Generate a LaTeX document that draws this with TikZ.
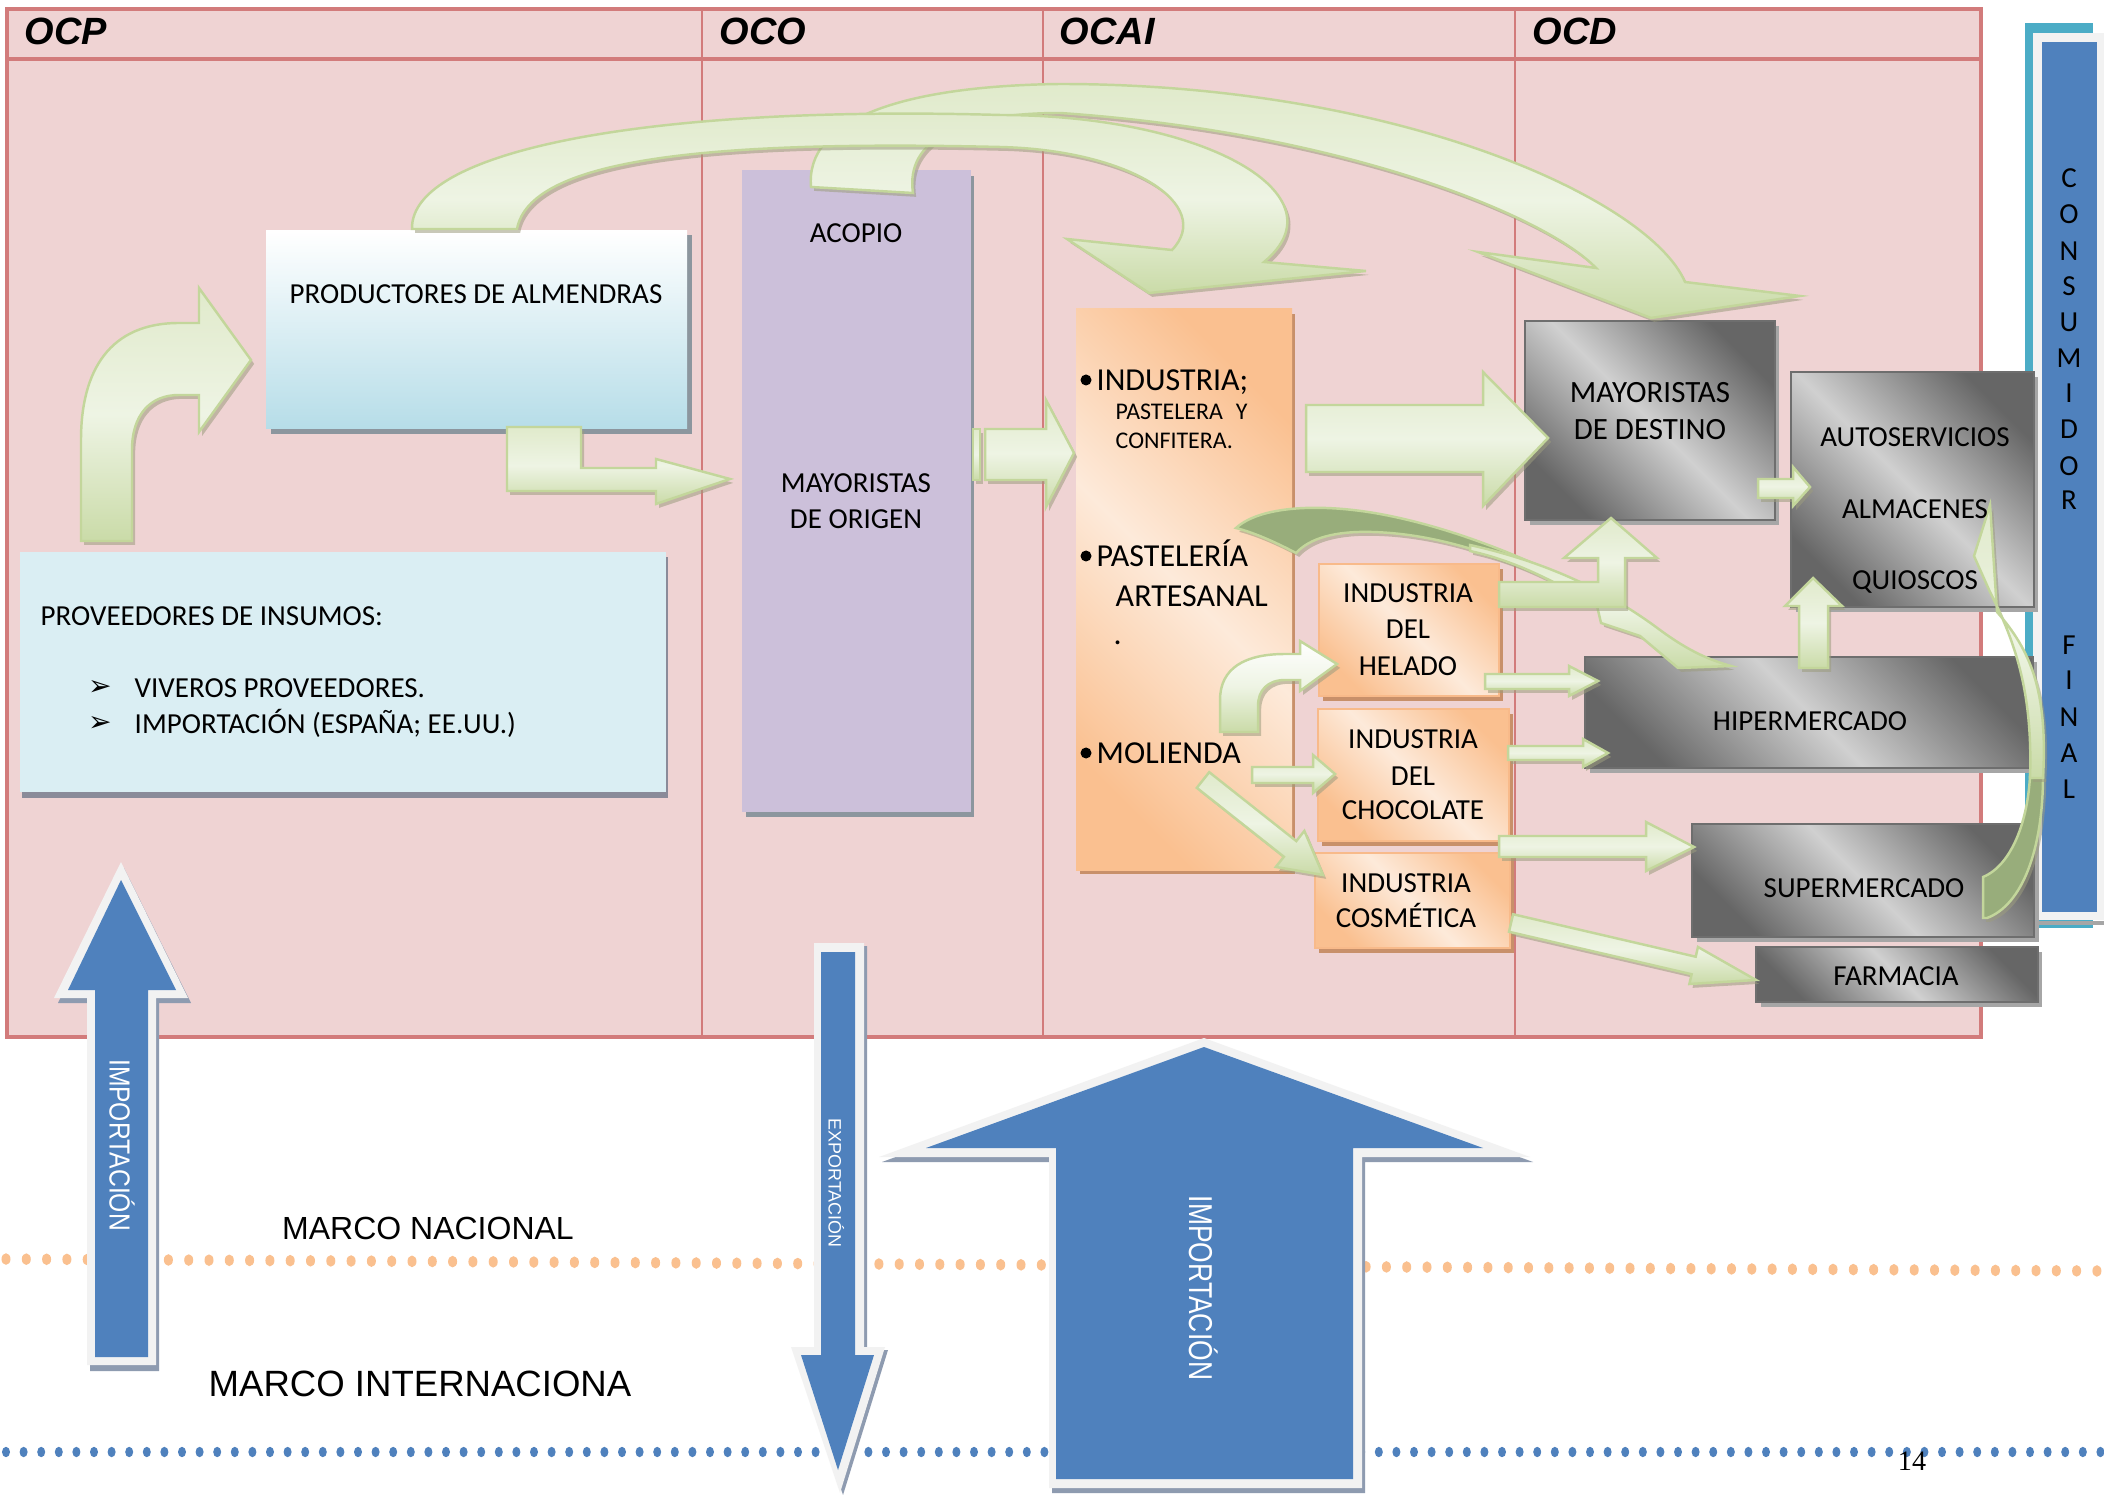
\documentclass[tikz,border=0pt]{standalone}
\usepackage{fontspec}
\usepackage{graphicx}
\setmainfont{Carlito}
\newfontfamily\arialf{Liberation Sans}
\newfontfamily\serff{Liberation Serif}
\newfontfamily\dejaf{DejaVu Sans}
\usetikzlibrary{shadows}

\definecolor{pinkfill}{HTML}{EFD3D3}
\definecolor{pinkline}{HTML}{D27B7B}
\definecolor{grnA}{HTML}{E0EACB}
\definecolor{grnM}{HTML}{EEF4E4}
\definecolor{grnB}{HTML}{CADBA8}
\definecolor{grnline}{HTML}{C3D69B}
\definecolor{grnshad}{HTML}{9C9C7E}
\definecolor{grndark}{HTML}{98AD7B}
\definecolor{lav}{HTML}{CCC0DA}
\definecolor{provfill}{HTML}{DAEEF3}
\definecolor{provshad}{HTML}{8A8B99}
\definecolor{prodblue}{HTML}{B6DDE8}
\definecolor{slate}{HTML}{8C969E}
\definecolor{orD}{HTML}{FAC090}
\definecolor{orL}{HTML}{FDEADA}
\definecolor{orline}{HTML}{F8BA8A}
\definecolor{orshad}{HTML}{C8906A}
\definecolor{gyD}{HTML}{666666}
\definecolor{gyL}{HTML}{D0D0D0}
\definecolor{gyline}{HTML}{6E6E6E}
\definecolor{gyshad}{HTML}{A6A6A6}
\definecolor{bblue}{HTML}{4F81BD}
\definecolor{bwhite}{HTML}{F2F2F2}
\definecolor{bshad}{HTML}{8E9BB0}
\definecolor{tealc}{HTML}{4BACC6}
\definecolor{odot}{HTML}{FAC08F}

\newcommand\fA{\fontsize{8.25pt}{9pt}\selectfont}
\newcommand\fB{\fontsize{9.1pt}{10pt}\selectfont}
\newcommand\fC{\fontsize{6.8pt}{8pt}\selectfont}
\newcommand\fD{\fontsize{8.8pt}{10pt}\selectfont}

\newcommand\diagarrow[8]{%
 \pgfmathsetmacro\dadx{#4-#2}%
 \pgfmathsetmacro\dady{#3-#5}%
 \pgfmathsetmacro\dalen{veclen(\dadx,\dady)}%
 \pgfmathsetmacro\daang{atan2(\dady,\dadx)}%
 \pgfmathsetmacro\dahb{\dalen-#8}%
 \begin{scope}[shift={(#2,#3)},rotate=\daang]
 \path[#1] (0,-#6/2) -- (\dahb,-#6/2) -- (\dahb,-#7/2) -- (\dalen,0) -- (\dahb,#7/2) -- (\dahb,#6/2) -- (0,#6/2) -- cycle;
 \end{scope}}

\begin{document}
\begin{tikzpicture}[x=0.01cm,y=-0.01cm,
  garrow/.style={draw=grnline, line width=0.7pt, top color=grnA, bottom color=grnB, middle color=grnM,
     drop shadow={shadow xshift=0.9pt, shadow yshift=-1.1pt, fill=grnshad, opacity=0.55}},
  gwhite/.style={garrow, top color=white, bottom color=grnB, middle color=grnM},
  gdark/.style={draw=grnline, line width=0.7pt, fill=grndark,
     drop shadow={shadow xshift=0.9pt, shadow yshift=-1.1pt, fill=grnshad, opacity=0.55}},
  gbox/.style={draw=gyline, line width=0.8pt, top color=gyD, bottom color=gyD, middle color=gyL, shading angle=-45},
  obox/.style={draw=orline, line width=0.5pt, top color=orD, bottom color=orD, middle color=orL, shading angle=-45},
  tA/.style={font=\fA, inner sep=0pt, text height=5.3pt, text depth=0pt},
  tB/.style={font=\fB, inner sep=0pt, text height=5.9pt, text depth=0pt},
  tC/.style={font=\fC, inner sep=0pt, text height=4.4pt, text depth=0pt},
  tD/.style={font=\fD, inner sep=0pt, text height=5.7pt, text depth=0pt},
  hdr/.style={font=\arialf\bfseries\itshape\fontsize{10.8pt}{12pt}\selectfont, inner sep=0pt, text height=7.7pt, text depth=0pt, anchor=west},
  wt/.style={inner sep=0pt, text=white, rotate=-90, text depth=0pt}
]
\useasboundingbox (0,0) rectangle (2104,1495);
\fill[white] (0,0) rectangle (2104,1495);

% ---------- frame ----------
\fill[pinkfill] (7,9) rectangle (1981,1037);
\draw[pinkline, line width=0.6pt] (702,9) -- (702,1037) (1043,9) -- (1043,1037) (1515,9) -- (1515,1037);
\draw[pinkline, line width=0.9pt] (7,59) -- (1981,59);
\draw[pinkline, line width=0.9pt] (7,9) rectangle (1981,1037);
\node[hdr] (hocp) at (24,31) {OCP};
\node[hdr] (hoco) at (719,31) {OCO};
\node[hdr] (hocai) at (1059,31) {OCAI};
\node[hdr] (hocd) at (1532,31) {OCD};

% ---------- consumidor final bar ----------
\fill[tealc] (2025,23) rectangle (2093,928);
\fill[gyshad] (2036,921) rectangle (2104,925);
\fill[bwhite] (2033,33) rectangle (2104,920);
\fill[bblue] (2042,42) rectangle (2097,912);
\foreach \ch/\yy in {C/178,O/214,N/251,S/286,U/322,M/358,I/393,D/429,O/466,R/500,F/645,I/680,N/717,A/753,L/789}
  \node[tA] (cf\yy) at (2069,\yy) {\ch};

% ---------- dotted lines ----------
\foreach \i in {0,...,103}{\pgfmathsetmacro\xx{6+\i*20.3}\pgfmathsetmacro\yy{1259+\xx*0.0057}
  \fill[odot] (\xx,\yy) ellipse (0.045cm and 0.058cm);}
\foreach \i in {0,...,119}{\pgfmathsetmacro\xx{6+\i*17.6}
  \fill[bblue] (\xx,1452) ellipse (0.04cm and 0.052cm);}

% ---------- boxes ----------
\fill[slate] (271,235) rectangle (692,434);
\shade[top color=white, bottom color=prodblue] (266,231) rectangle (687,429);
\fill[provshad] (22,557) rectangle (668,798);
\fill[provfill] (20,552) rectangle (666,792);
\fill[slate] (746,176) rectangle (974,817);
\fill[lav] (742,170) rectangle (971,812);

\fill[orshad] (1080,314) rectangle (1295,874);
\path[obox, draw=none] (1076,309) rectangle (1292,870);
\fill[orshad] (1323,569) rectangle (1503,701);
\path[obox] (1319,564) rectangle (1499,696);
\fill[orshad] (1322,714) rectangle (1513,846);
\path[obox] (1318,709) rectangle (1509,841);
\fill[orshad] (1319,858) rectangle (1514,953);
\path[obox] (1315,853) rectangle (1510,948);

\fill[gyshad] (1530,326) rectangle (1779,525);
\path[gbox] (1525,321) rectangle (1775,520);
\fill[gyshad] (1796,377) rectangle (2038,612);
\path[gbox] (1791,372) rectangle (2034,607);
\fill[gyshad] (1590,662) rectangle (2037,773);
\path[gbox] (1585,657) rectangle (2033,768);
\fill[gyshad] (1697,829) rectangle (2039,942);
\path[gbox] (1692,824) rectangle (2034,937);
\fill[gyshad] (1761,952) rectangle (2042,1007);
\path[gbox] (1756,947) rectangle (2038,1002);

% ---------- green arrows ----------
% acopio arc -> mayoristas de destino
\path[garrow] (811,187) .. controls (805,120) and (900,86) .. (1060,84)
   .. controls (1400,84) and (1650,200) .. (1685,282) -- (1800,296) -- (1651,318) -- (1478,252) -- (1596,268)
   .. controls (1545,215) and (1340,132) .. (1060,113) .. controls (960,113) and (905,140) .. (913,193) -- cycle;
% productores arc -> industria
\path[garrow] (412,229) .. controls (410,150) and (650,105) .. (1000,115)
   .. controls (1205,115) and (1345,195) .. (1264,262) -- (1366,271) -- (1149,293) -- (1067,239) -- (1172,250)
   .. controls (1215,205) and (1130,150) .. (1000,147) .. controls (700,140) and (530,160) .. (517,229) -- cycle;
% proveedores -> productores
\path[garrow] (81,541) -- (81,440) .. controls (81,370) and (110,323) .. (179,323) -- (199,323) -- (199,288)
   -- (251,360) -- (199,432) -- (199,395) -- (179,395) .. controls (150,395) and (132,415) .. (132,450) -- (132,541) -- cycle;
% productores -> mayoristas de origen
\path[garrow] (507,427) -- (581,427) -- (581,468) -- (656,468) -- (656,459) -- (730,479) -- (656,504) -- (656,491) -- (507,491) -- cycle;
% origen -> industria
\path[garrow] (973,429) rectangle (980,480);
\path[garrow] (985,429) -- (1046,429) -- (1046,400) -- (1074,453) -- (1046,507) -- (1046,480) -- (985,480) -- cycle;
% industria -> mayoristas de destino
\path[garrow] (1306,405) -- (1483,405) -- (1483,372) -- (1548,438) -- (1483,506) -- (1483,472) -- (1306,472) -- cycle;
% pasteleria curved -> hipermercado
\path[gdark] (1236,528) .. controls (1260,506) and (1320,503) .. (1380,514) .. controls (1450,527) and (1520,555) .. (1590,590)
   -- (1585,593) .. controls (1520,565) and (1450,534) .. (1372,532) .. controls (1335,531) and (1310,538) .. (1296,553)
   .. controls (1275,542) and (1255,533) .. (1236,528) -- cycle;
\path[garrow] (1470,545) .. controls (1560,565) and (1620,600) .. (1660,630) .. controls (1690,652) and (1710,660) .. (1731,666)
   -- (1678,668) -- (1640,636) -- (1601,623) -- (1597,606) .. controls (1560,585) and (1520,562) .. (1470,551) -- cycle;
% helado -> mayoristas de destino
\path[garrow] (1499,582) -- (1598,582) -- (1598,558) -- (1564,558) -- (1611,518) -- (1657,558) -- (1625,558) -- (1625,607) -- (1499,607) -- cycle;
% helado -> hiper
\path[garrow] (1485,674) -- (1569,674) -- (1569,666) -- (1598,681) -- (1569,696) -- (1569,689) -- (1485,689) -- cycle;
% chocolate -> hiper
\path[garrow] (1508,746) -- (1583,746) -- (1583,739) -- (1608,753) -- (1583,767) -- (1583,760) -- (1508,760) -- cycle;
% chocolate -> super
\path[garrow] (1499,836) -- (1646,836) -- (1646,822) -- (1694,847) -- (1646,871) -- (1646,857) -- (1499,857) -- cycle;
% cosmetica -> farmacia
\diagarrow{garrow}{1511}{923}{1756}{980}{18}{38}{64}
% molienda -> chocolate
\path[garrow] (1252,767) -- (1313,767) -- (1313,755) -- (1335,774) -- (1313,793) -- (1313,783) -- (1252,783) -- cycle;
% molienda -> cosmetica
\diagarrow{garrow}{1203}{780}{1323}{875}{20}{46}{42}
% molienda -> helado
\path[gwhite] (1220,732) -- (1220,700) .. controls (1220,668) and (1245,654) .. (1285,654) -- (1300,654) -- (1300,641)
   -- (1337,664) -- (1300,691) -- (1300,680) -- (1285,680) .. controls (1268,680) and (1258,690) .. (1258,706) -- (1258,732) -- cycle;
% mayoristas destino -> autoservicios
\path[garrow] (1758,479) -- (1793,479) -- (1793,467) -- (1810,487) -- (1793,506) -- (1793,498) -- (1758,498) -- cycle;
% hiper -> quioscos
\path[garrow] (1799,668) -- (1799,606) -- (1785,606) -- (1813,578) -- (1842,606) -- (1828,606) -- (1828,668) -- cycle;
% supermercado -> almacenes
\path[gdark] (1983,877) .. controls (2012,865) and (2028,820) .. (2030,775) -- (2043,775)
   .. controls (2043,850) and (2022,905) .. (1987,918) -- (1983,918) -- cycle;
\path[garrow] (2030,778) .. controls (2033,690) and (2014,640) .. (1990,592) -- (1974,556) -- (1990,505) -- (1997,612)
   .. controls (2030,650) and (2048,690) .. (2043,778) -- cycle;

% ---------- texts ----------
\node[tA] (tprod) at (476,294) {PRODUCTORES DE ALMENDRAS};
\node[tA, anchor=west] (tprov) at (40,616) {PROVEEDORES DE INSUMOS:};
\node[inner sep=0pt, font=\dejaf\fontsize{8pt}{9pt}\selectfont] (bul1) at (100,688) {➢};
\node[inner sep=0pt, font=\dejaf\fontsize{8pt}{9pt}\selectfont] (bul2) at (100,724) {➢};
\node[tA, anchor=west] (tviv) at (134,688) {VIVEROS PROVEEDORES.};
\node[tA, anchor=west] (timp) at (134,724) {IMPORTACIÓN (ESPAÑA; EE.UU.)};
\node[tA] (tacop) at (856,233) {ACOPIO};
\node[tA] (tmayo1) at (856,483) {MAYORISTAS};
\node[tA] (tmayo2) at (856,519) {DE ORIGEN};

\fill (1086,380) circle (0.055cm);
\fill (1086,556) circle (0.055cm);
\fill (1086,753) circle (0.055cm);
\node[tB, anchor=west] (tind) at (1096,380) {INDUSTRIA;};
\node[tC, anchor=west] (tpas) at (1115,412) {PASTELERA\hspace{0.55em}Y};
\node[tC, anchor=west] (tconf) at (1115,441) {CONFITERA.};
\node[tB, anchor=west] (tpast) at (1096,556) {PASTELERÍA};
\node[tB, anchor=west] (tart) at (1115,596) {ARTESANAL};
\node[tB, anchor=base west] (tdot) at (1113,645) {.};
\node[tB, anchor=west] (tmol) at (1096,753) {MOLIENDA};

\node[tA] (th1) at (1408,593) {INDUSTRIA};
\node[tA] (th2) at (1408,629) {DEL};
\node[tA] (th3) at (1408,666) {HELADO};
\node[tA] (tc1) at (1413,739) {INDUSTRIA};
\node[tA] (tc2) at (1413,776) {DEL};
\node[tA] (tc3) at (1413,810) {CHOCOLATE};
\node[tA] (tk1) at (1406,883) {INDUSTRIA};
\node[tA] (tk2) at (1406,918) {COSMÉTICA};

\node[tD] (td1) at (1650,392) {MAYORISTAS};
\node[tD] (td2) at (1650,429) {DE DESTINO};
\node[tA] (ta1) at (1915,437) {AUTOSERVICIOS};
\node[tA] (ta2) at (1915,509) {ALMACENES};
\node[tA] (ta3) at (1915,580) {QUIOSCOS};
\node[tA] (thip) at (1810,721) {HIPERMERCADO};
\node[tA] (tsup) at (1864,888) {SUPERMERCADO};
\node[tA] (tfar) at (1896,976) {FARMACIA};

\node[inner sep=0pt, font=\arialf\fontsize{9.1pt}{10pt}\selectfont, text height=6.5pt, text depth=0pt] (mnac) at (428,1228) {MARCO NACIONAL};
\node[inner sep=0pt, font=\arialf\fontsize{10.4pt}{12pt}\selectfont, text height=7.45pt, text depth=0pt] (mint) at (420,1383) {MARCO INTERNACIONA};
\node[inner sep=0pt, font=\serff\fontsize{8pt}{9pt}\selectfont] (pnum) at (1912,1461) {14};

% ---------- blue arrows ----------
% left importacion
\fill[bshad] (90,1371) -- (90,1003) -- (58,1003) -- (124,868) -- (191,1003) -- (159,1003) -- (159,1371) -- cycle;
\fill[bwhite] (87,1365) -- (87,998) -- (54,998) -- (121,862) -- (188,998) -- (156,998) -- (156,1365) -- cycle;
\fill[bblue] (95,1357) -- (95,990) -- (68,990) -- (121,880) -- (176,990) -- (148,990) -- (148,1357) -- cycle;
\node[wt, font=\arialf\fontsize{8.25pt}{9pt}\selectfont, text height=5.9pt] (timpl) at (120,1145) {\scalebox{0.85}[1]{IMPORTACIÓN}};
% exportacion
\fill[bshad] (817,946) -- (867,946) -- (867,1350) -- (888,1350) -- (843,1495) -- (794,1350) -- (817,1350) -- cycle;
\fill[bwhite] (814,943) -- (864,943) -- (864,1347) -- (885,1347) -- (840,1493) -- (791,1347) -- (814,1347) -- cycle;
\fill[bblue] (821,952) -- (855,952) -- (855,1355) -- (874,1355) -- (838,1470) -- (801,1355) -- (821,1355) -- cycle;
\node[wt, font=\arialf\fontsize{5.1pt}{6pt}\selectfont, text height=3.65pt] (texp) at (835,1183) {EXPORTACIÓN};
% big importacion
\fill[bshad] (1052,1493) -- (1052,1162) -- (882,1162) -- (1207,1043) -- (1533,1162) -- (1365,1162) -- (1365,1493) -- cycle;
\fill[bwhite] (1049,1488) -- (1049,1157) -- (879,1157) -- (1204,1038) -- (1530,1157) -- (1362,1157) -- (1362,1488) -- cycle;
\fill[bblue] (1056,1479) -- (1056,1148) -- (926,1148) -- (1204,1047) -- (1483,1148) -- (1353,1148) -- (1353,1479) -- cycle;
\node[wt, font=\arialf\fontsize{9.4pt}{10pt}\selectfont, text height=6.7pt] (timpb) at (1201,1288) {\scalebox{0.8}[1]{IMPORTACIÓN}};
\end{tikzpicture}
\end{document}
